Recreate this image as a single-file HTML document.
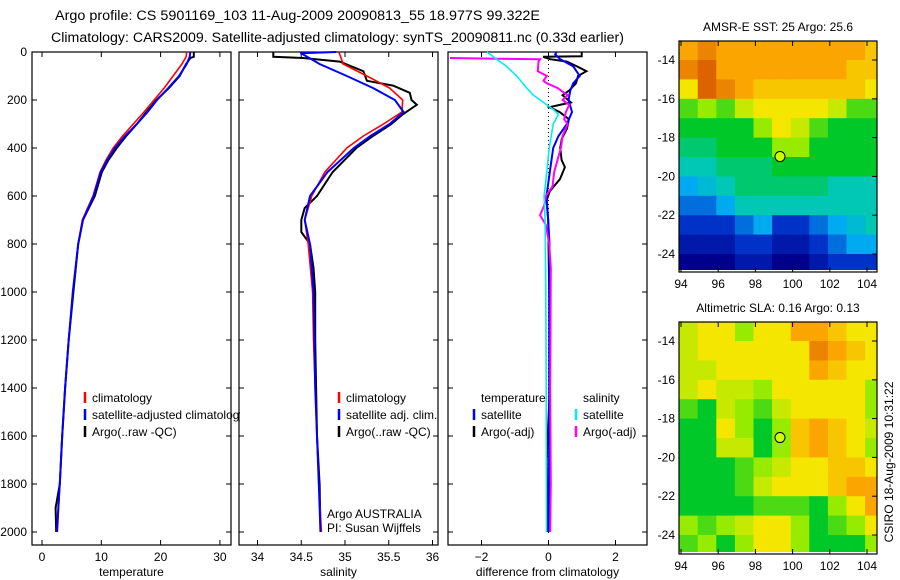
<!DOCTYPE html>
<html><head><meta charset="utf-8"><style>
html,body{margin:0;padding:0;background:#fff;}
svg{display:block;font-family:"Liberation Sans",sans-serif;}
</style></head><body>
<svg id="fig" width="900" height="580" viewBox="0 0 900 580" xmlns="http://www.w3.org/2000/svg">
<defs><clipPath id="legclip"><rect x="0" y="380" width="240" height="80"/></clipPath></defs>
<text x="55" y="20" font-size="13.5" textLength="485" lengthAdjust="spacingAndGlyphs">Argo profile: CS 5901169_103 11-Aug-2009 20090813_55 18.977S 99.322E</text>
<text x="51" y="42" font-size="13.5" textLength="573" lengthAdjust="spacingAndGlyphs">Climatology: CARS2009. Satellite-adjusted climatology: synTS_20090811.nc (0.33d earlier)</text>
<g id="plots"></g>
<text transform="translate(893,462) rotate(-90)" font-size="12" text-anchor="middle">CSIRO 18-Aug-2009 10:31:22</text>
</svg>
<script>
// ---------- depth axis ----------
const depthTicks = [0,200,400,600,800,1000,1200,1400,1600,1800,2000];
// ---------- temperature panel ----------
const tTicks = [0,10,20,30];
const tClimDepth = [0,20,50,100,150,200,250,300,350,400,450,500,600,700,800,1000,1200,1400,1600,1800,2000];
const tClim      = [24.4,24.3,23.6,22.1,20.6,18.9,17.2,15.4,13.6,12.0,10.8,9.8,8.6,6.8,6.1,5.2,4.5,3.9,3.4,3.0,2.6];
const tSatDepth  = [0,20,50,100,150,200,250,300,350,400,450,500,600,700,800,1000,1200,1400,1600,1800,2000];
const tSat       = [25.0,24.9,24.4,23.1,21.3,19.4,17.8,16.0,14.0,12.3,11.0,9.9,8.7,6.9,6.1,5.2,4.5,3.9,3.4,3.0,2.5];
const tArgoDepth = [0,20,25,50,100,150,200,250,300,350,400,450,500,600,700,800,1000,1200,1400,1600,1800,1900,2000];
const tArgo      = [25.6,25.6,25.0,24.3,23.2,21.4,19.3,17.6,16.0,14.2,12.6,11.2,10.1,8.9,6.9,6.1,5.3,4.5,3.9,3.4,3.0,2.3,2.4];
// ---------- salinity panel ----------
const sTicks = [34,34.5,35,35.5,36];
const sClimDepth = [0,50,100,150,200,250,300,350,400,500,600,700,800,1000,1200,1400,1600,1800,2000];
const sClim      = [34.93,34.98,35.25,35.51,35.66,35.65,35.44,35.21,35.02,34.77,34.62,34.54,34.58,34.63,34.64,34.66,34.68,34.70,34.73];
const sSatDepth  = [0,5,10,50,100,150,200,250,300,350,400,500,600,700,800,1000,1200,1400,1600,1800,2000];
const sSat       = [34.9,34.49,34.52,34.71,35.02,35.32,35.57,35.67,35.51,35.29,35.10,34.80,34.60,34.54,34.60,34.64,34.65,34.66,34.68,34.70,34.72];
const sArgoDepth = [0,20,25,40,80,120,140,170,200,220,260,300,350,400,500,600,650,700,750,800,900,1000,1200,1400,1600,1800,2000];
const sArgo      = [34.18,34.18,34.52,34.94,35.21,35.25,35.55,35.74,35.76,35.82,35.66,35.53,35.32,35.13,34.86,34.68,34.54,34.50,34.50,34.60,34.64,34.66,34.66,34.67,34.68,34.71,34.72];
// ---------- difference panel ----------
const dTicks = [-2,0,2];
const dTSatDepth  = [0,10,30,60,100,130,160,200,250,300,350,400,500,600,700,800,1200,1600,2000];
const dTSat       = [0.24,0.20,0.35,0.74,0.93,0.74,0.65,0.60,0.70,0.55,0.30,0.14,0.04,-0.06,-0.01,0.03,0.02,0.02,0.01];
const dTArgoDepth = [0,18,20,30,40,60,80,100,130,160,180,210,230,250,280,320,360,400,450,480,530,580,620,700,1000,1400,1700,1900,2000];
const dTArgo      = [0.99,0.99,-0.16,0.05,0.55,0.85,1.13,0.88,0.82,0.62,0.42,0.67,0.03,0.33,0.61,0.55,0.40,0.35,0.39,0.49,0.34,0.04,-0.06,-0.01,0.02,0.04,-0.05,-0.04,-0.03];
const dSSatDepth  = [0,30,60,100,150,180,200,240,260,300,400,500,600,700,1000,1400,2000];
const dSSat       = [-1.84,-1.55,-1.25,-0.95,-0.65,-0.45,-0.25,0.15,0.30,0.14,0.02,-0.05,-0.13,-0.10,-0.08,-0.07,-0.06];
const dSArgoDepth = [25,28,30,40,80,100,120,130,150,180,200,220,250,280,300,350,400,450,500,560,600,640,680,720,800,900,1400,1800,2000];
const dSArgo      = [-2.94,-1.5,-0.25,-0.3,-0.32,-0.05,-0.15,-0.05,0.27,0.57,0.42,0.62,0.52,0.47,0.57,0.42,0.37,0.27,0.17,0.12,-0.08,-0.13,-0.25,-0.08,0.02,0.07,0.05,0.07,0.05];
// ---------- maps ----------
const mapLonTicks = [94,96,98,100,102,104];
const mapLatTicks = [-14,-16,-18,-20,-22,-24];
const mapLons = [94.4,95.4,96.4,97.4,98.4,99.4,100.4,101.4,102.4,103.4,104.4];
const mapLats = [-13.5,-14.5,-15.5,-16.5,-17.5,-18.5,-19.5,-20.5,-21.5,-22.5,-23.5,-24.5];
const sstField = [
[7,7.5,7,7,7,7,7,7,7,7,6.5],
[7.5,8,7,7,7,7,7,7,7,6.5,6.5],
[6,8,7.5,7,6.5,6.5,6.5,6.5,6.5,6.5,6],
[4.5,5,4.5,5.5,6,6,6,6,5.5,4.5,4.5],
[4,4,4,4,5,6,5.5,4.5,4,4,4],
[3.5,3.5,4,4,4,5,5,4,4,4,4],
[3,3,3.5,3.5,3.5,4,4,4,4,4,4],
[2,2.5,3,3.5,3.5,3.5,3.5,3.5,3,3,3],
[1.5,1.5,2,3,3,3,3,3,3,3,3],
[1,1,1,1.5,2,1,1,1.5,2,2.5,3],
[0.5,0.5,0.5,1,1,0.5,0.5,1,1.5,2,2],
[0,0,0,0.5,0.5,0,0,0.5,1,1,1]];
const slaField = [
[5.5,6,6,5,6,6,7,7,6.5,6,6],
[5.5,6,6,6,6,6,6,7.5,7,6.5,6],
[5.5,5.5,6,6,6,6,6,7,6.5,6,6],
[5.5,6,5.5,5.5,5,6,6,6,6,6,5],
[4.5,4,5.5,5,4.5,5.5,6,6,6,6,5],
[4,4,6,5,4,5,6.5,7,6.5,6,5.5],
[4,4,5.5,5.5,4,5,6.5,7,6.5,6,5],
[4,4,4,4.5,5,5.5,6,6,6.5,6.5,6],
[4,4,4,4.5,5.5,6,6,6,6.5,7,7],
[4,4,4,4,4.5,4.5,4.5,4,5,6,7],
[5,4.5,5,5.5,6,6,5,4,4.5,5,6],
[4.5,5,4,5,6,6,5,4,4,4,5]];
const argoLon = 99.322, argoLat = -18.977;

const NS='http://www.w3.org/2000/svg';
const root=document.getElementById('plots');
const FS=12;
function mk(tag,attrs,parent){const e=document.createElementNS(NS,tag);for(const k in attrs)e.setAttribute(k,attrs[k]);(parent||root).appendChild(e);return e;}
function txt(x,y,s,size,anchor,parent){const t=mk('text',{x:x,y:y,'font-size':size,'text-anchor':anchor||'start'},parent);t.textContent=s;return t;}

const TOP=52, PXM=0.24, BOT=545;
const yD=d=>TOP+d*PXM;

function panel(name,x0,x1,xs,ticks,fmt,label,showY){
  const g=mk('g',{});
  
  
  const r=mk('rect',{x:x0,y:TOP,width:x1-x0,height:BOT-TOP,fill:'none',stroke:'#000','stroke-width':1.2},g);
  
  
  ticks.forEach(v=>{const X=xs(v);
    mk('line',{x1:X,y1:BOT,x2:X,y2:BOT-5,stroke:'#000'},g);
    mk('line',{x1:X,y1:TOP,x2:X,y2:TOP+5,stroke:'#000'},g);
    const t=txt(X,BOT+16,fmt(v),FS,'middle',g);
    
    
  });
  depthTicks.forEach(d=>{const Y=yD(d);
    mk('line',{x1:x0,y1:Y,x2:x0+5,y2:Y,stroke:'#000'},g);
    mk('line',{x1:x1,y1:Y,x2:x1-5,y2:Y,stroke:'#000'},g);
    if(showY){const t=txt(27,Y+4,String(d),FS,'end',g);
      
      }
  });
  const l=txt((x0+x1)/2,BOT+31,label,FS,'middle',g);
  
  
  return g;
}
function series(g,name,depths,vals,xs,color,w){
  const pts=depths.map((d,i)=>xs(vals[i]).toFixed(1)+','+yD(d).toFixed(1)).join(' ');
  const p=mk('polyline',{points:pts,fill:'none',stroke:color,'stroke-width':w,'stroke-linejoin':'miter'},g);
  
  
}
function legend(g,name,x,y,color,label){
  const m=mk('line',{x1:x,y1:y-10,x2:x,y2:y+1,stroke:color,'stroke-width':2.5},g);
  
  
  const t=txt(x+7,y,label,FS,'start',g);
  
  
  return t;
}

// temperature
const xT=v=>42+v*5.93;
const gT=panel('temperature',32,231,xT,tTicks,String,'temperature',true);
series(gT,'temperature-argo-line',tArgoDepth,tArgo,xT,'#000',2);
series(gT,'temperature-climatology-line',tClimDepth,tClim,xT,'#f00',1.6);
series(gT,'temperature-satellite-line',tSatDepth,tSat,xT,'#00f',2);
const gTL=mk('g',{'clip-path':'url(#legclip)'},gT);
legend(gTL,'legend-climatology',85,402,'#f00','climatology');
legend(gTL,'legend-satellite-adjusted',85,419,'#00f','satellite-adjusted climatology');
legend(gTL,'legend-argo-raw',85,436,'#000','Argo(..raw -QC)');

// salinity
const xS=v=>257.5+(v-34)*87.5;
const gS=panel('salinity',239,438,xS,sTicks,String,'salinity',false);
series(gS,'salinity-argo-line',sArgoDepth,sArgo,xS,'#000',2);
series(gS,'salinity-climatology-line',sClimDepth,sClim,xS,'#f00',1.6);
series(gS,'salinity-satellite-line',sSatDepth,sSat,xS,'#00f',2);
legend(gS,'legend-sal-climatology',339,402,'#f00','climatology');
legend(gS,'legend-sal-satellite',339,419,'#00f','satellite adj. clim.');
legend(gS,'legend-sal-argo',339,436,'#000','Argo(..raw -QC)');
let a1=txt(327,518,'Argo AUSTRALIA',FS,'start',gS);


let a2=txt(327,532,'PI: Susan Wijffels',FS,'start',gS);



// difference
const xDf=v=>548.5+v*33.5;
const gD=panel('difference',448,647,xDf,dTicks,v=>v<0?'\u2212'+Math.abs(v):String(v),'difference from climatology',false);
mk('line',{x1:xDf(0),y1:TOP,x2:xDf(0),y2:BOT-10,stroke:'#000','stroke-dasharray':'1,3'},gD);
series(gD,'diff-temp-argo-line',dTArgoDepth,dTArgo,xDf,'#000',2);
series(gD,'diff-temp-satellite-line',dTSatDepth,dTSat,xDf,'#00f',2);
series(gD,'diff-sal-argo-line',dSArgoDepth,dSArgo,xDf,'#f0f',2);
series(gD,'diff-sal-satellite-line',dSSatDepth,dSSat,xDf,'#0ee',1.6);
let lt=txt(481,402,'temperature',FS,'start',gD);


let ls=txt(583,402,'salinity',FS,'start',gD);


legend(gD,'legend-diff-temp-satellite',474,419,'#00f','satellite');
legend(gD,'legend-diff-temp-argo',474,436,'#000','Argo(-adj)');
legend(gD,'legend-diff-sal-satellite',576,419,'#0ee','satellite');
legend(gD,'legend-diff-sal-argo',576,436,'#f0f','Argo(-adj)');

// maps
const cmapStops=[[0,[0,0,140]],[1,[0,50,200]],[2,[0,170,240]],[3,[0,200,180]],[4,[0,200,40]],[5,[150,235,0]],[6,[245,230,0]],[7,[250,165,0]],[8,[220,100,0]]];
function cmap(v){v=Math.max(0,Math.min(8,v));const i=Math.min(7,Math.floor(v)),f=v-i;
  const a=cmapStops[i][1],b=cmapStops[i+1][1];
  return 'rgb('+a.map((c,k)=>Math.round(c+(b[k]-c)*f)).join(',')+')';}
function drawMap(name,title,field,top,bottom,lat14){
  const x0=679,x1=877;
  const xs=lon=>681+(lon-94)*18.6;
  const ys=lat=>lat14+(-14-lat)*19.4;
  const g=mk('g',{});
  
  
  const cid=name+'-clip';
  const cp=mk('clipPath',{id:cid},g);
  mk('rect',{x:x0,y:top,width:x1-x0,height:bottom-top-2},cp);
  const cells=mk('g',{'clip-path':'url(#'+cid+')'},g);
  field.forEach((row,r)=>row.forEach((v,c)=>{
    const cx=xs(mapLons[c]),cy=ys(mapLats[r]);
    const rc=mk('rect',{x:(cx-9.3).toFixed(1),y:(cy-9.7).toFixed(1),width:19.1,height:20,fill:cmap(v)},cells);
    
    
  }));
  mk('rect',{x:x0,y:top,width:x1-x0,height:bottom-top,fill:'none',stroke:'#000','stroke-width':1.2},g);
  mapLonTicks.forEach(l=>{const X=xs(l);
    mk('line',{x1:X,y1:top,x2:X,y2:top+5,stroke:'#000'},g);
    mk('line',{x1:X,y1:bottom,x2:X,y2:bottom-5,stroke:'#000'},g);
    const t=txt(X,bottom+16,String(l),FS,'middle',g);
    
    });
  mapLatTicks.forEach(l=>{const Y=ys(l);
    mk('line',{x1:x1,y1:Y,x2:x1-5,y2:Y,stroke:'#000'},g);
    const t=txt(675,Y+4,'-'+Math.abs(l),FS,'end',g);
    
    });
  const c=mk('circle',{cx:xs(argoLon),cy:ys(argoLat),r:5,fill:'#cf0',stroke:'#000','stroke-width':1},g);
  
  
  const tt=txt(778,top-10,title,FS,'middle',g);
  
  
}
drawMap('sst-map','AMSR-E SST: 25 Argo: 25.6',sstField,41,272,60);
drawMap('sla-map','Altimetric SLA: 0.16 Argo: 0.13',slaField,322,554,341);
</script>
</body></html>
